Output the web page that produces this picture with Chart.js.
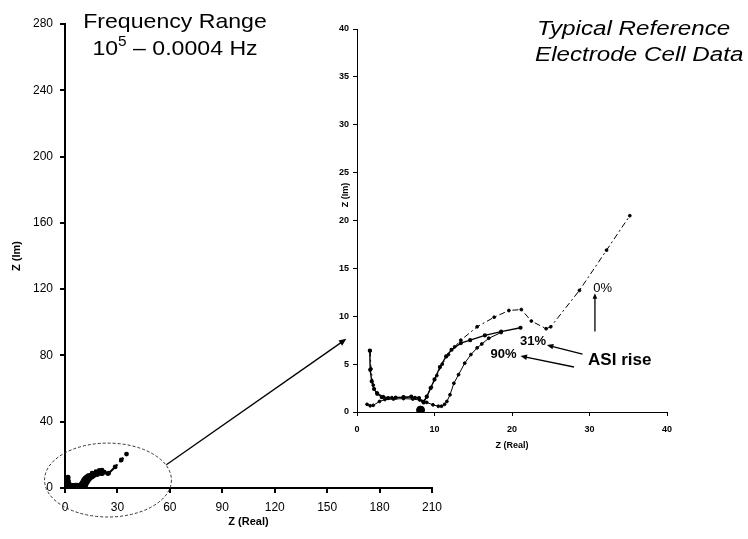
<!DOCTYPE html>
<html>
<head>
<meta charset="utf-8">
<script src="https://cdn.jsdelivr.net/npm/chart.js@4.4.1/dist/chart.umd.min.js"></script>
<style>
  html, body { margin: 0; padding: 0; background: #fff; }
  #wrap { position: relative; width: 748px; height: 539px; }
  #wrap canvas { position: absolute; left: 0; top: 0; }
</style>
</head>
<body>
<div id="wrap">
  <canvas id="main" width="748" height="539"></canvas>
  <canvas id="inset" width="748" height="539"></canvas>
</div>
<script>
// Nyquist data: Z(Real) vs Z(Im)
// 0% ASI rise (dash-dot curve)
const x0 = [1.7, 1.8, 2.1, 2.6, 3.4, 4.5, 6.0, 7.5, 8.5, 9.0, 9.6, 10.3, 11.0, 11.8, 12.6, 13.4, 15.5, 17.7, 19.6, 21.2, 22.5, 24.4, 25.0, 28.7, 32.2, 35.2];
const y0 = [6.4, 4.5, 2.8, 2.0, 1.6, 1.5, 1.55, 1.5, 1.1, 1.6, 2.6, 3.8, 5.0, 6.0, 6.8, 7.5, 8.9, 9.9, 10.6, 10.7, 9.5, 8.7, 8.9, 12.7, 16.9, 20.5];
// 31% ASI rise
const x31 = [1.65, 1.7, 1.9, 2.2, 2.6, 3.2, 4.0, 5.0, 6.0, 7.0, 8.0, 8.6, 9.0, 9.5, 10.0, 10.7, 11.5, 12.2, 13.4, 14.6, 16.5, 18.6, 21.1];
const y31 = [6.4, 4.4, 3.2, 2.4, 1.9, 1.55, 1.45, 1.5, 1.55, 1.6, 1.45, 1.0, 1.6, 2.5, 3.4, 4.7, 5.8, 6.5, 7.2, 7.5, 8.0, 8.4, 8.8];
// 90% ASI rise
const x90 = [1.3, 1.7, 2.1, 2.9, 3.6, 4.7, 6.0, 7.2, 8.1, 9.0, 9.8, 10.5, 10.9, 11.3, 11.6, 12.0, 12.5, 13.1, 13.9, 14.7, 15.5, 16.1, 17.0, 18.6];
const y90 = [0.8, 0.65, 0.7, 1.1, 1.3, 1.35, 1.4, 1.35, 1.25, 1.0, 0.75, 0.6, 0.6, 0.8, 1.1, 1.8, 3.0, 3.9, 5.1, 6.0, 6.7, 7.1, 7.7, 8.3];
// big marker near the real axis
const xMark = [8.2];
const yMark = [0.2];

// axis ranges / tick steps
const mainX = [0, 210, 30];
const mainY = [0, 280, 40];
const insetX = [0, 40, 10];
const insetY = [0, 40, 5];

const FONT = '"Liberation Sans", Arial, sans-serif';

function pts(xs, ys) {
    return xs.map((x, i) => ({x: x, y: ys[i]}));
}

function makeSets(lw) {
    return [
        {data: pts(x0, y0), showLine: true, borderColor: '#000', backgroundColor: '#000',
         borderWidth: lw, borderDash: [6, 3, 2, 3], pointRadius: 1.4},
        {data: pts(x31, y31), showLine: true, borderColor: '#000', backgroundColor: '#000',
         borderWidth: lw + 0.4, pointRadius: 1.4},
        {data: pts(x90, y90), showLine: true, borderColor: '#000', backgroundColor: '#000',
         borderWidth: lw, pointRadius: 1.4},
        {data: pts(xMark, yMark), showLine: false, backgroundColor: '#000', borderColor: '#000',
         pointRadius: 4}
    ];
}

function arrow(ctx, x1, y1, x2, y2, head, lw) {
    var a = Math.atan2(y2 - y1, x2 - x1);
    ctx.save();
    ctx.strokeStyle = '#000';
    ctx.fillStyle = '#000';
    ctx.lineWidth = lw;
    ctx.setLineDash([]);
    ctx.beginPath();
    ctx.moveTo(x1, y1);
    ctx.lineTo(x2 - Math.cos(a) * head * 0.6, y2 - Math.sin(a) * head * 0.6);
    ctx.stroke();
    ctx.beginPath();
    ctx.moveTo(x2, y2);
    ctx.lineTo(x2 - head * Math.cos(a - 0.4), y2 - head * Math.sin(a - 0.4));
    ctx.lineTo(x2 - head * Math.cos(a + 0.4), y2 - head * Math.sin(a + 0.4));
    ctx.closePath();
    ctx.fill();
    ctx.restore();
}

// the scan is a little stretched sideways, so widen the captions to suit
function wideText(ctx, txt, x, y, sx) {
    ctx.save();
    ctx.translate(x, y);
    ctx.scale(sx, 1);
    ctx.fillText(txt, 0, 0);
    ctx.restore();
}

function axisOpts(range, title, size, isX, tickPad, titlePad, fit) {
    return {
        type: 'linear',
        min: range[0], max: range[1],
        afterFit: function (s) { if (isX) s.height = fit; else s.width = fit; },
        ticks: {stepSize: range[2], color: '#000', padding: tickPad, maxRotation: 0,
                font: {family: FONT, size: size.tick, weight: size.bold ? 'bold' : 'normal'}},
        grid: {drawOnChartArea: false, color: '#000', tickLength: size.tickLen, lineWidth: size.line},
        border: {color: '#000', width: size.line},
        title: {display: !!title, text: title, color: '#000', padding: titlePad,
                font: {family: FONT, size: size.title, weight: 'bold'}}
    };
}

// main chart: ellipse, pointer arrow and captions
var mainDeco = {
    id: 'mainDeco',
    afterDatasetsDraw: function (chart) {
        var ctx = chart.ctx, xs = chart.scales.x, ys = chart.scales.y;
        var cx = xs.getPixelForValue(24.6), cy = ys.getPixelForValue(4.8);
        var rx = xs.getPixelForValue(24.6 + 36.3) - cx;
        var ry = cy - ys.getPixelForValue(4.8 + 22.3);
        ctx.save();
        ctx.strokeStyle = '#333';
        ctx.lineWidth = 1;
        ctx.setLineDash([3, 2]);
        ctx.beginPath();
        ctx.ellipse(cx, cy, rx, ry, 0, 0, Math.PI * 2);
        ctx.stroke();
        ctx.restore();

        arrow(ctx, xs.getPixelForValue(58), ys.getPixelForValue(14),
              xs.getPixelForValue(161), ys.getPixelForValue(90), 8, 1.3);

        ctx.save();
        ctx.fillStyle = '#000';
        ctx.textBaseline = 'alphabetic';
        ctx.textAlign = 'left';
        var k = 1.1;
        ctx.font = '21px ' + FONT;
        var wt = ctx.measureText('Frequency Range').width * k;
        wideText(ctx, 'Frequency Range', 175 - wt / 2, 28, k);

        var big = '21px ' + FONT, small = '14px ' + FONT;
        ctx.font = big;
        var w1 = ctx.measureText('10').width * k;
        var w3 = ctx.measureText(' \u2013 0.0004 Hz').width * k;
        ctx.font = small;
        var w2 = ctx.measureText('5').width * k;
        var sx = 175 - (w1 + w2 + w3) / 2;
        ctx.font = big;
        wideText(ctx, '10', sx, 55, k);
        ctx.font = small;
        wideText(ctx, '5', sx + w1, 46, k);
        ctx.font = big;
        wideText(ctx, ' \u2013 0.0004 Hz', sx + w1 + w2, 55, k);

        ctx.font = 'italic 20px ' + FONT;
        wideText(ctx, 'Typical Reference', 537, 35, 1.21);
        wideText(ctx, 'Electrode Cell Data', 535, 61, 1.21);
        ctx.restore();
    }
};

// inset: ASI rise labels and arrows
var insetDeco = {
    id: 'insetDeco',
    afterDatasetsDraw: function (chart) {
        var ctx = chart.ctx, xs = chart.scales.x, ys = chart.scales.y;
        var px = v => xs.getPixelForValue(v), py = v => ys.getPixelForValue(v);
        arrow(ctx, px(30.7), py(8.4), px(30.7), py(12.4), 6, 1.3);
        arrow(ctx, px(29.1), py(6.05), px(24.5), py(7.0), 7, 1.3);
        arrow(ctx, px(28.0), py(4.7), px(21.1), py(5.85), 7, 1.3);
        ctx.save();
        ctx.fillStyle = '#000';
        ctx.textAlign = 'center';
        ctx.textBaseline = 'middle';
        ctx.font = '13px ' + FONT;
        ctx.fillText('0%', px(31.7), py(12.95));
        ctx.font = 'bold 13px ' + FONT;
        ctx.fillText('31%', px(22.7), py(7.4));
        ctx.fillText('90%', px(18.9), py(6.05));
        ctx.font = 'bold 17px ' + FONT;
        ctx.fillText('ASI rise', px(33.9), py(5.4));
        // y title sits above the middle of the axis on the scan
        ctx.translate(346, 195);
        ctx.rotate(-Math.PI / 2);
        ctx.font = 'bold 9px ' + FONT;
        ctx.fillText('Z (Im)', 0, 0);
        ctx.restore();
    }
};

var mainSize = {tick: 12, title: 11, tickLen: 5, line: 2, bold: false};
new Chart(document.getElementById('main'), {
    type: 'scatter',
    data: {datasets: makeSets(2)},
    options: {
        responsive: false, animation: false, events: [],
        layout: {padding: {left: 0, top: 24, right: 316, bottom: 0}},
        plugins: {legend: {display: false}, tooltip: {enabled: false}},
        scales: {
            x: axisOpts(mainX, 'Z (Real)', mainSize, true, 7, {top: 0, bottom: 10}, 51),
            y: axisOpts(mainY, 'Z (Im)', mainSize, false, 7, {top: 10, bottom: 0}, 65)
        }
    },
    plugins: [mainDeco]
});

var insetSize = {tick: 9, title: 9, tickLen: 4, line: 1, bold: true};
new Chart(document.getElementById('inset'), {
    type: 'scatter',
    data: {datasets: makeSets(1)},
    options: {
        responsive: false, animation: false, events: [],
        layout: {padding: {left: 327, top: 29, right: 81, bottom: 82}},
        plugins: {legend: {display: false}, tooltip: {enabled: false}},
        scales: {
            x: axisOpts(insetX, 'Z (Real)', insetSize, true, 8, {top: 0, bottom: 6}, 45),
            y: axisOpts(insetY, '', insetSize, false, 4, 0, 30)
        }
    },
    plugins: [insetDeco]
});
</script>
</body>
</html>
